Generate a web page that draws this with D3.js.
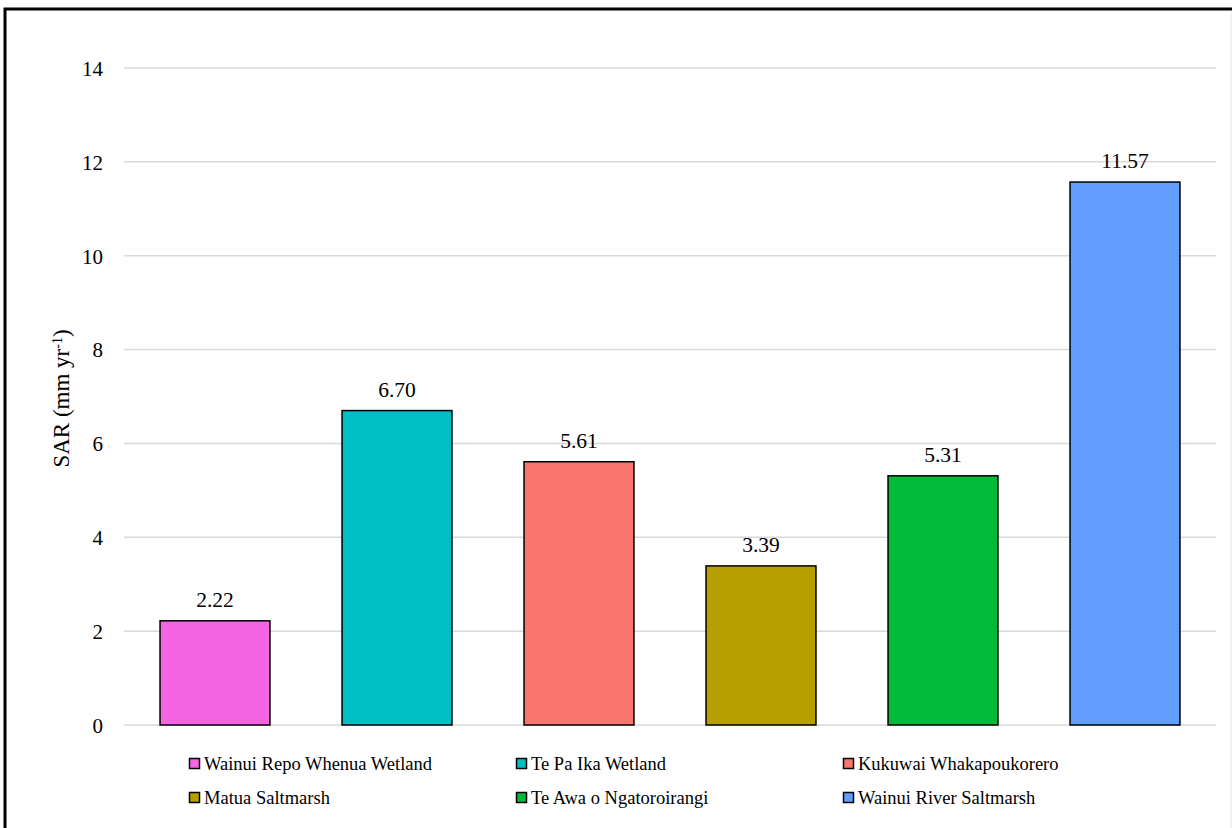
<!DOCTYPE html>
<html>
<head>
<meta charset="utf-8">
<script src="https://cdn.jsdelivr.net/npm/d3@7"></script>
<style>
  body { margin: 0; background: #fff; }
  svg, svg text { font-family: "Liberation Serif", "Times New Roman", serif !important; }
</style>
</head>
<body>
<div id="chart"></div>
<script>
// Data
const sites = [
  "Wainui Repo Whenua Wetland",
  "Te Pa Ika Wetland",
  "Kukuwai Whakapoukorero",
  "Matua Saltmarsh",
  "Te Awa o Ngatoroirangi",
  "Wainui River Saltmarsh"
];
const sarValues = [2.22, 6.70, 5.61, 3.39, 5.31, 11.57];
const barColors = ["#f564e3", "#00bfc4", "#f8766d", "#b79f00", "#00ba38", "#619cff"];
const yTicks = [0, 2, 4, 6, 8, 10, 12, 14];

function drawChart() {
  const width = 1232;
  const height = 828;
  const plot = { left: 124, right: 1216, top: 68, bottom: 725 };

  const svg = d3.select("#chart")
    .append("svg")
    .attr("width", width)
    .attr("height", height);

  // Outer frame (cropped on right/bottom in the reference)
  svg.append("rect")
    .attr("x", 5)
    .attr("y", 9)
    .attr("width", 1300)
    .attr("height", 900)
    .attr("fill", "#fff")
    .attr("stroke", "#000")
    .attr("stroke-width", 3);
  svg.append("line")
    .attr("x1", 1231).attr("x2", 1231)
    .attr("y1", 11).attr("y2", height)
    .attr("stroke", "#e6e6e6")
    .attr("stroke-width", 1);

  //Scales
  const x = d3.scaleBand()
    .domain(sites)
    .range([plot.left, plot.right])
    .paddingInner(0.396)
    .paddingOuter(0.198);

  const y = d3.scaleLinear()
    .domain([0, 14])
    .range([plot.bottom, plot.top]);

  //Gridlines
  svg.append("g")
    .selectAll("line")
    .data(yTicks)
    .enter()
    .append("line")
    .attr("x1", plot.left)
    .attr("x2", plot.right)
    .attr("y1", (d) => y(d))
    .attr("y2", (d) => y(d))
    .attr("stroke", "#d9d9d9")
    .attr("stroke-width", 1.5);

  //Y axis labels
  const yAxis = d3.axisLeft(y).tickValues(yTicks).tickSize(0).tickPadding(0);
  const yG = svg.append("g")
    .attr("transform", `translate(103,0)`)
    .call(yAxis)
    .attr("font-family", null);
  yG.select(".domain").remove();
  yG.selectAll("text")
    .style("font-size", "21px")
    .attr("fill", "#000")
    .attr("dy", "0.35em");

  //Axis title
  const title = svg.append("text")
    .attr("transform", `translate(69, ${(plot.top + plot.bottom) / 2 + 2}) rotate(-90)`)
    .attr("text-anchor", "middle")
    .style("font-size", "23px")
    .attr("fill", "#000");
  title.append("tspan").text("SAR (mm yr");
  title.append("tspan").attr("baseline-shift", "super").style("font-size", "14px").text("-1");
  title.append("tspan").text(")");

  //Bars
  svg.append("g")
    .selectAll("rect")
    .data(sites)
    .enter()
    .append("rect")
    .attr("x", (d) => x(d))
    .attr("y", (d, i) => y(sarValues[i]))
    .attr("width", x.bandwidth())
    .attr("height", (d, i) => y(0) - y(sarValues[i]))
    .attr("fill", (d, i) => barColors[i])
    .attr("stroke", "#000")
    .attr("stroke-width", 1.5);

  //Value labels
  svg.append("g")
    .selectAll("text")
    .data(sites)
    .enter()
    .append("text")
    .attr("x", (d) => x(d) + x.bandwidth() / 2)
    .attr("y", (d, i) => y(sarValues[i]) - 14)
    .attr("text-anchor", "middle")
    .style("font-size", "21.5px")
    .attr("fill", "#000")
    .text((d, i) => sarValues[i].toFixed(2));

  //Legend
  const legend = svg.append("g")
    .selectAll("g")
    .data(sites)
    .enter()
    .append("g")
    .attr("transform", (d, i) => `translate(${189 + (i % 3) * 327}, ${764 + Math.floor(i / 3) * 34})`);

  legend.append("rect")
    .attr("x", 0.5)
    .attr("y", -5.5)
    .attr("width", 10)
    .attr("height", 10)
    .attr("fill", (d, i) => barColors[i])
    .attr("stroke", "#000")
    .attr("stroke-width", 1.5);

  legend.append("text")
    .attr("x", 15)
    .attr("y", 0)
    .attr("dy", "0.35em")
    .style("font-size", "18.5px")
    .attr("fill", "#000")
    .text((d) => d);
}

drawChart();
</script>
</body>
</html>
